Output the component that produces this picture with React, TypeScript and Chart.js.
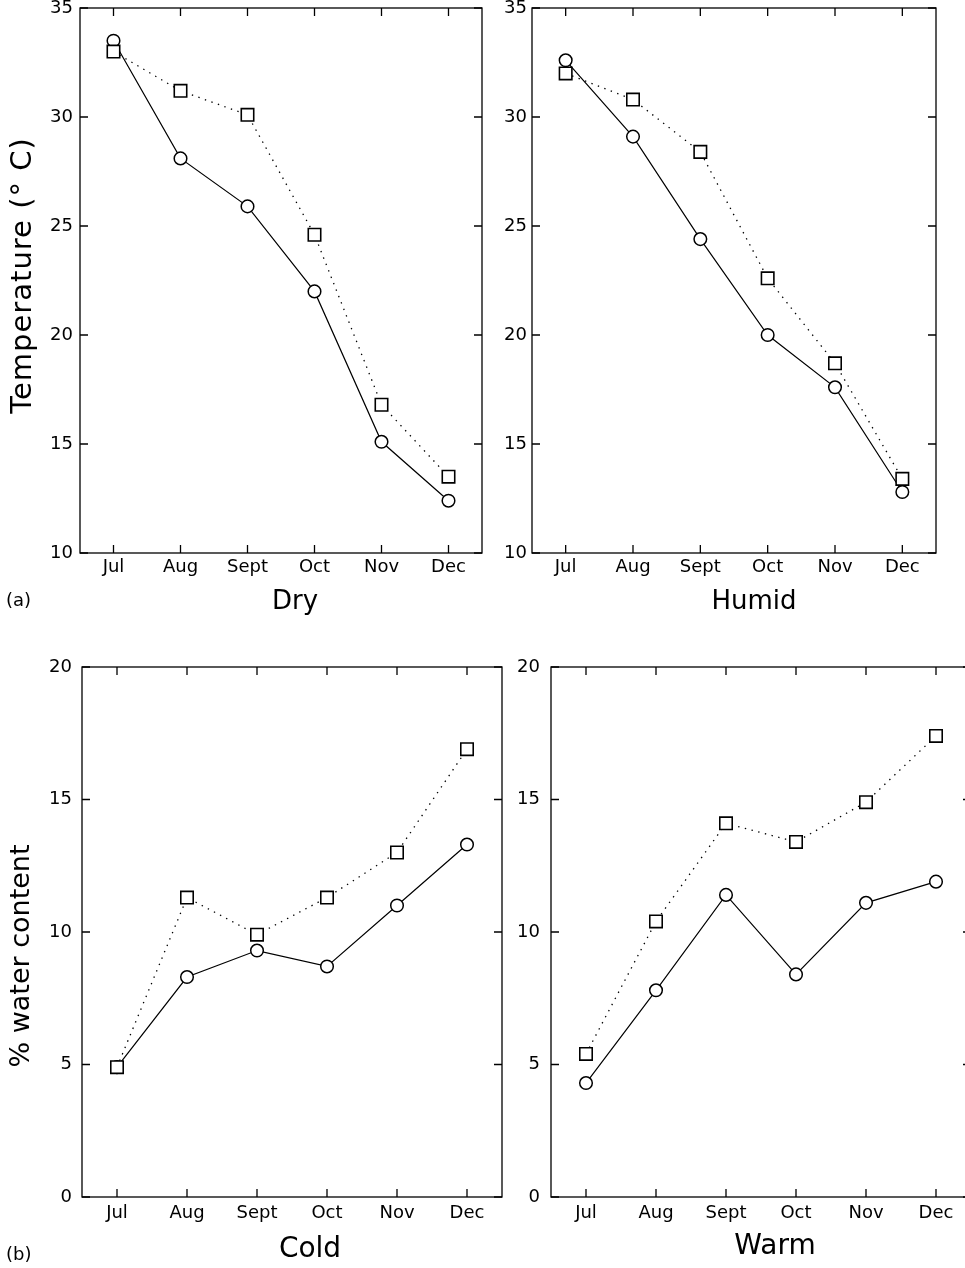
import React, { useEffect, useRef } from 'react';
import { Chart, registerables } from 'chart.js';

Chart.register(...registerables);

const FONT = "'DejaVu Sans', sans-serif";

// ---- data ----
const months = ['Jul', 'Aug', 'Sept', 'Oct', 'Nov', 'Dec'];
const tempTicks = [10, 15, 20, 25, 30, 35];
const waterTicks = [0, 5, 10, 15, 20];

const dryCircle = [33.5, 28.1, 25.9, 22.0, 15.1, 12.4];
const drySquare = [33.0, 31.2, 30.1, 24.6, 16.8, 13.5];
const humidCircle = [32.6, 29.1, 24.4, 20.0, 17.6, 12.8];
const humidSquare = [32.0, 30.8, 28.4, 22.6, 18.7, 13.4];
const coldCircle = [4.9, 8.3, 9.3, 8.7, 11.0, 13.3];
const coldSquare = [4.9, 11.3, 9.9, 11.3, 13.0, 16.9];
const warmCircle = [4.3, 7.8, 11.4, 8.4, 11.1, 11.9];
const warmSquare = [5.4, 10.4, 14.1, 13.4, 14.9, 17.4];

type PanelSpec = {
  canvasLeft: number;
  canvasTop: number;
  canvasW: number;
  canvasH: number;
  yWidth: number;
  xHeight: number;
  padTop: number;
  padRight: number;
  yTicks: number[];
  circles: number[];
  squares: number[];
  xTitle: string;
  xTitleDx: number;
  xTitleDy: number;
  xTitleSize: number;
  yTitle?: string;
  yTitleDx?: number;
  yTitleDy?: number;
  yTitleSize?: number;
  yTitleSpacing?: number;
  tag?: string;
  tagX?: number;
  tagY?: number;
  xPad: number;
  yPad: number;
};

const decoPlugin = {
  id: 'deco',
  beforeDatasetsDraw(chart: any, _args: any, _opts: any) {
    const { ctx, chartArea: a, scales } = chart;
    ctx.save();
    ctx.strokeStyle = '#000';
    ctx.lineWidth = 1.3;
    ctx.strokeRect(a.left, a.top, a.right - a.left, a.bottom - a.top);
    const tl = 8;
    ctx.beginPath();
    const xs = scales.x;
    xs.ticks.forEach((_t: any, i: number) => {
      const px = xs.getPixelForTick(i);
      ctx.moveTo(px, a.bottom);
      ctx.lineTo(px, a.bottom - tl);
      ctx.moveTo(px, a.top);
      ctx.lineTo(px, a.top + tl);
    });
    const ys = scales.y;
    ys.ticks.forEach((_t: any, i: number) => {
      const py = ys.getPixelForTick(i);
      ctx.moveTo(a.left, py);
      ctx.lineTo(a.left + tl, py);
      ctx.moveTo(a.right, py);
      ctx.lineTo(a.right - tl, py);
    });
    ctx.stroke();
    ctx.restore();
  },
  afterDraw(chart: any, _args: any, opts: any) {
    const { ctx, chartArea: a } = chart;
    ctx.save();
    ctx.fillStyle = '#000';
    ctx.textAlign = 'center';
    ctx.textBaseline = 'middle';
    if (opts.xTitle) {
      ctx.font = `${opts.xTitleSize}px ${FONT}`;
      ctx.fillText(opts.xTitle, (a.left + a.right) / 2 + opts.xTitleDx, a.bottom + opts.xTitleDy);
    }
    if (opts.yTitle) {
      ctx.save();
      ctx.font = `${opts.yTitleSize}px ${FONT}`;
      if (opts.yTitleSpacing) (ctx as any).letterSpacing = `${opts.yTitleSpacing}px`;
      ctx.translate(a.left + opts.yTitleDx, (a.top + a.bottom) / 2 + opts.yTitleDy);
      ctx.rotate(-Math.PI / 2);
      ctx.fillText(opts.yTitle, 0, 0);
      ctx.restore();
    }
    if (opts.tag) {
      ctx.font = `18px ${FONT}`;
      ctx.textAlign = 'left';
      ctx.fillText(opts.tag, opts.tagX, opts.tagY);
    }
    ctx.restore();
  },
};

function Panel({ spec }: { spec: PanelSpec }) {
  const ref = useRef<HTMLCanvasElement | null>(null);
  useEffect(() => {
    if (!ref.current) return;
    const s = spec;
    const chart = new Chart(ref.current, {
      type: 'line',
      data: {
        labels: months,
        datasets: [
          {
            data: s.squares,
            borderColor: '#000',
            borderWidth: 1.3,
            borderDash: [1.4, 5.5],
            pointStyle: 'rect',
            pointRadius: 8.8,
            pointBorderWidth: 1.6,
            pointBackgroundColor: '#fff',
            pointBorderColor: '#000',
            fill: false,
            tension: 0,
          },
          {
            data: s.circles,
            borderColor: '#000',
            borderWidth: 1.2,
            pointStyle: 'circle',
            pointRadius: 6.3,
            pointBorderWidth: 1.5,
            pointBackgroundColor: '#fff',
            pointBorderColor: '#000',
            fill: false,
            tension: 0,
          },
        ],
      },
      options: {
        responsive: false,
        animation: false,
        devicePixelRatio: 1,
        layout: { padding: { left: 0, right: s.padRight, top: s.padTop, bottom: 0 } },
        plugins: {
          legend: { display: false },
          tooltip: { enabled: false },
          deco: {
            xTitle: s.xTitle,
            xTitleDx: s.xTitleDx,
            xTitleDy: s.xTitleDy,
            xTitleSize: s.xTitleSize,
            yTitle: s.yTitle,
            yTitleDx: s.yTitleDx,
            yTitleDy: s.yTitleDy,
            yTitleSize: s.yTitleSize,
            yTitleSpacing: s.yTitleSpacing,
            tag: s.tag,
            tagX: s.tagX,
            tagY: s.tagY,
          },
        } as any,
        scales: {
          x: {
            type: 'category',
            offset: true,
            grid: { display: false, drawTicks: false },
            border: { display: false },
            ticks: {
              color: '#000',
              font: { family: FONT, size: 18 },
              padding: s.xPad,
              maxRotation: 0,
              autoSkip: false,
            },
            afterFit: (scale: any) => {
              scale.height = s.xHeight;
            },
          },
          y: {
            type: 'linear',
            min: s.yTicks[0],
            max: s.yTicks[s.yTicks.length - 1],
            grid: { display: false, drawTicks: false },
            border: { display: false },
            ticks: {
              stepSize: s.yTicks[1] - s.yTicks[0],
              color: '#000',
              font: { family: FONT, size: 18 },
              padding: s.yPad,
            },
            afterFit: (scale: any) => {
              scale.width = s.yWidth;
            },
          },
        },
      },
      plugins: [decoPlugin],
    } as any);
    return () => chart.destroy();
  }, [spec]);
  return (
    <canvas
      ref={ref}
      width={spec.canvasW}
      height={spec.canvasH}
      style={{
        position: 'absolute',
        left: spec.canvasLeft,
        top: spec.canvasTop,
        width: spec.canvasW,
        height: spec.canvasH,
      }}
    />
  );
}

const specs: PanelSpec[] = [
  {
    canvasLeft: 0, canvasTop: -16, canvasW: 498, canvasH: 641,
    yWidth: 80, xHeight: 72, padTop: 24, padRight: 16,
    yTicks: tempTicks, circles: dryCircle, squares: drySquare,
    xTitle: 'Dry', xTitleDx: 14, xTitleDy: 49, xTitleSize: 26,
    yTitle: 'Temperature (° C)', yTitleDx: -57, yTitleDy: -5, yTitleSize: 29, yTitleSpacing: 1,
    tag: '(a)', tagX: 6, tagY: 617, xPad: 4, yPad: 7,
  },
  {
    canvasLeft: 452, canvasTop: -16, canvasW: 500, canvasH: 641,
    yWidth: 80, xHeight: 72, padTop: 24, padRight: 16,
    yTicks: tempTicks, circles: humidCircle, squares: humidSquare,
    xTitle: 'Humid', xTitleDx: 20, xTitleDy: 49, xTitleSize: 26,
    xPad: 4, yPad: 5,
  },
  {
    canvasLeft: 0, canvasTop: 643, canvasW: 518, canvasH: 625,
    yWidth: 82, xHeight: 71, padTop: 24, padRight: 16,
    yTicks: waterTicks, circles: coldCircle, squares: coldSquare,
    xTitle: 'Cold', xTitleDx: 18, xTitleDy: 53, xTitleSize: 28,
    yTitle: '% water content', yTitleDx: -60, yTitleDy: 24, yTitleSize: 27,
    tag: '(b)', tagX: 6, tagY: 612, xPad: 6, yPad: 10,
  },
  {
    canvasLeft: 471, canvasTop: 643, canvasW: 516, canvasH: 625,
    yWidth: 80, xHeight: 71, padTop: 24, padRight: 16,
    yTicks: waterTicks, circles: warmCircle, squares: warmSquare,
    xTitle: 'Warm', xTitleDx: 14, xTitleDy: 50, xTitleSize: 28,
    xPad: 6, yPad: 11,
  },
];

export default function App() {
  return (
    <div
      style={{
        position: 'absolute',
        left: 0,
        top: 0,
        width: 965,
        height: 1268,
        overflow: 'hidden',
        background: '#fff',
      }}
    >
      {specs.map((s, i) => (
        <Panel key={i} spec={s} />
      ))}
    </div>
  );
}
